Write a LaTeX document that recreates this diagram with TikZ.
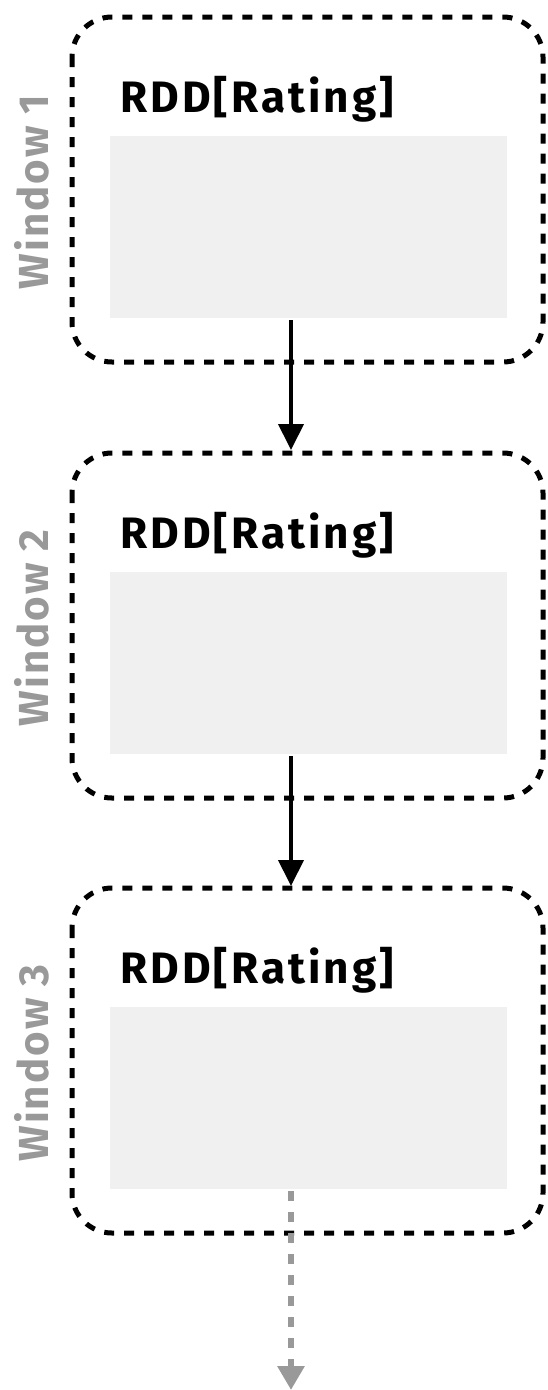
\documentclass[tikz,border=0pt]{standalone}
\usepackage{fontspec}
\setmainfont{Fira Sans}
\newfontfamily\spaced[LetterSpace=7]{Fira Sans}
\newfontfamily\lblspaced[LetterSpace=5]{Fira Sans}
\usetikzlibrary{arrows.meta,calc}
\definecolor{panel}{HTML}{F0F0F0}
\definecolor{lbl}{HTML}{999999}
\tikzset{
  winbox/.style={draw=black, line width=5pt, dash pattern=on 10pt off 10pt, rounded corners=40pt},
  panelbox/.style={fill=panel, draw=none},
  title/.style={anchor=base west, inner sep=0pt, font=\spaced\fontsize{44}{44}\selectfont\bfseries},
  winlabel/.style={rotate=90, anchor=center, inner sep=0pt, text=lbl, font=\lblspaced\fontsize{42}{42}\selectfont\bfseries},
  flow/.style={draw=black, line width=4pt, -{Triangle[width=25pt,length=26pt]}},
  more/.style={draw=lbl, line width=6pt, dash pattern=on 10pt off 11pt, -{Triangle[width=26pt,length=24pt]}}
}
\begin{document}
\begin{tikzpicture}[x=1pt,y=-1pt]
\useasboundingbox (0,0) rectangle (547,1390);
\foreach \i/\off in {1/0,2/436,3/871}{
  \draw[winbox] (72,17+\off) rectangle (543,362+\off);
  \node[panelbox, minimum width=397pt, minimum height=182pt, inner sep=0pt, anchor=north west] (p\i) at (110,136+\off) {};
  \node[title] (t\i) at (120,112+\off) {RDD[Rating]};
  \node[winlabel] (w\i) at (32,192+\off) {Window \i};
}
\coordinate (top2) at (291,450);
\coordinate (top3) at (291,886);
\coordinate (end) at (291,1390);
\draw[flow] ($(p1.south -| top2)+(0,2)$) -- (top2);
\draw[flow] ($(p2.south -| top3)+(0,2)$) -- (top3);
\draw[more] ($(p3.south -| end)+(0,2)$) -- (end);
\end{tikzpicture}
\end{document}
